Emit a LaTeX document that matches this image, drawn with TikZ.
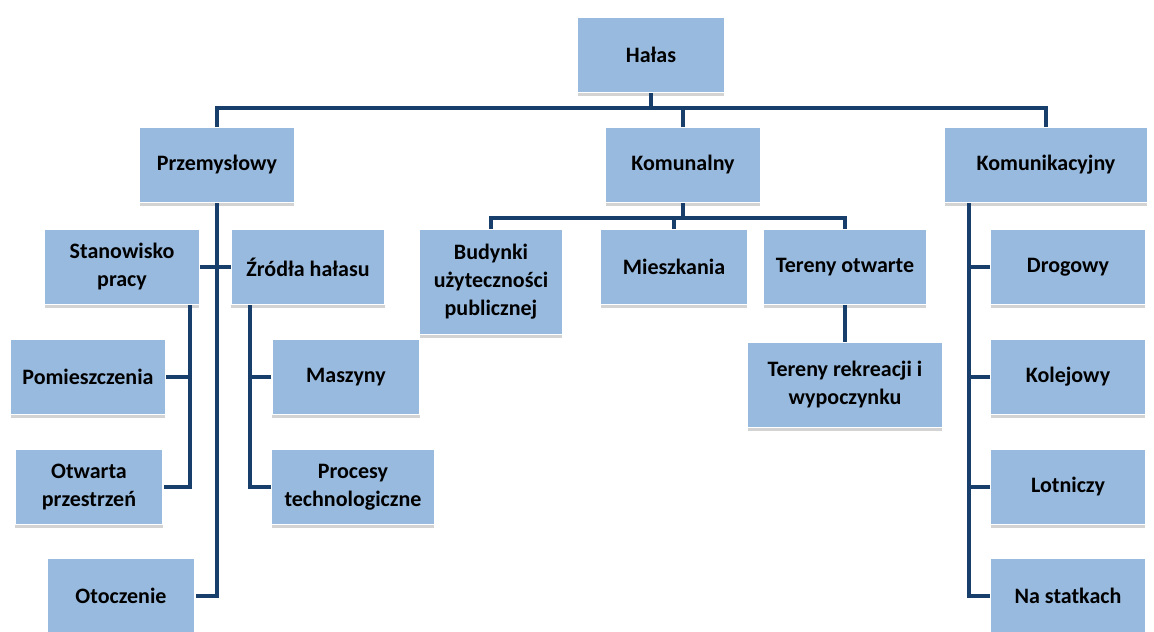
\documentclass[tikz,border=0pt]{standalone}
\usepackage{fontspec}
\setmainfont{Carlito}
\usetikzlibrary{shadows}
\definecolor{boxblue}{RGB}{152,186,222}
\definecolor{linkblue}{RGB}{24,62,108}
\tikzset{
  box/.style={fill=boxblue, draw=white, line width=1pt, align=center,
    minimum width=116pt, minimum height=56pt, inner sep=2pt,
    font=\bfseries\fontsize{16.5}{21}\selectfont,
    drop shadow={shadow xshift=0pt, shadow yshift=-2.5pt, opacity=0.35}},
  link/.style={draw=linkblue, line width=2.8pt},
}
\begin{document}
\begin{tikzpicture}[x=0.75pt, y=-0.75pt]
  \useasboundingbox (0,0) rectangle (1154,632);
  % top levels
  \node[box, minimum width=110pt] (halas) at (651,55) {Hałas};
  \node[box] (przem) at (217,165) {Przemysłowy};
  \node[box] (komun) at (683,165) {Komunalny};
  \node[box, minimum width=152pt] (komunik) at (1046,165) {Komunikacyjny};
  % przemyslowy
  \node[box] (stanow) at (122,267) {Stanowisko\\pracy};
  \node[box, minimum width=115pt] (zrodla) at (308,267) {Źródła hałasu};
  \node[box] (pomiesz) at (88,377) {Pomieszczenia};
  \node[box, minimum width=111pt] (otwarta) at (89,487) {Otwarta\\przestrzeń};
  \node[box, minimum width=111pt] (otocz) at (121,596) {Otoczenie};
  \node[box, minimum width=111pt] (maszyny) at (346,377) {Maszyny};
  \node[box, minimum width=122pt] (procesy) at (353,487) {Procesy\\technologiczne};
  % komunalny
  \node[box, minimum width=107pt, minimum height=79pt] (budynki) at (491,282) {Budynki\\użyteczności\\publicznej};
  \node[box, minimum width=110pt] (mieszk) at (674,267) {Mieszkania};
  \node[box, minimum width=122pt] (terotw) at (845,267) {Tereny otwarte};
  \node[box, minimum width=146pt, minimum height=64pt] (terrek) at (845,385) {Tereny rekreacji i\\wypoczynku};
  % komunikacyjny
  \node[box] (drog) at (1068,267) {Drogowy};
  \node[box] (kolej) at (1068,377) {Kolejowy};
  \node[box] (lotn) at (1068,487) {Lotniczy};
  \node[box] (statki) at (1068,596) {Na statkach};

  % connectors
  \coordinate (topbus) at (651,108);
  \draw[link] (halas.south) -- (topbus);
  \draw[link] (przem.north) |- (topbus) -| (komunik.north);
  \draw[link] (komun.north) -- (komun.north |- topbus);

  \draw[link] (przem.south) |- (otocz.east);
  \draw[link] (stanow.east) -- (zrodla.west);
  \coordinate (stbus) at ([xshift=51pt]stanow.south);
  \draw[link] (stbus) |- (otwarta.east);
  \draw[link] (pomiesz.east) -- (pomiesz.east -| stbus);
  \coordinate (zrbus) at ([xshift=-43.5pt]zrodla.south);
  \draw[link] (zrbus) |- (procesy.west);
  \draw[link] (maszyny.west) -- (maszyny.west -| zrbus);

  \coordinate (kobus) at (683,218);
  \draw[link] (komun.south) -- (kobus);
  \draw[link] (budynki.north) |- (kobus) -| (terotw.north);
  \draw[link] (mieszk.north) -- (mieszk.north |- kobus);
  \draw[link] (terotw.south) -- (terrek.north);

  \coordinate (kkbus) at ([xshift=-58pt]komunik.south);
  \draw[link] (kkbus) |- (statki.west);
  \foreach \n in {drog,kolej,lotn}
    \draw[link] (\n.west) -- (\n.west -| kkbus);
\end{tikzpicture}
\end{document}
